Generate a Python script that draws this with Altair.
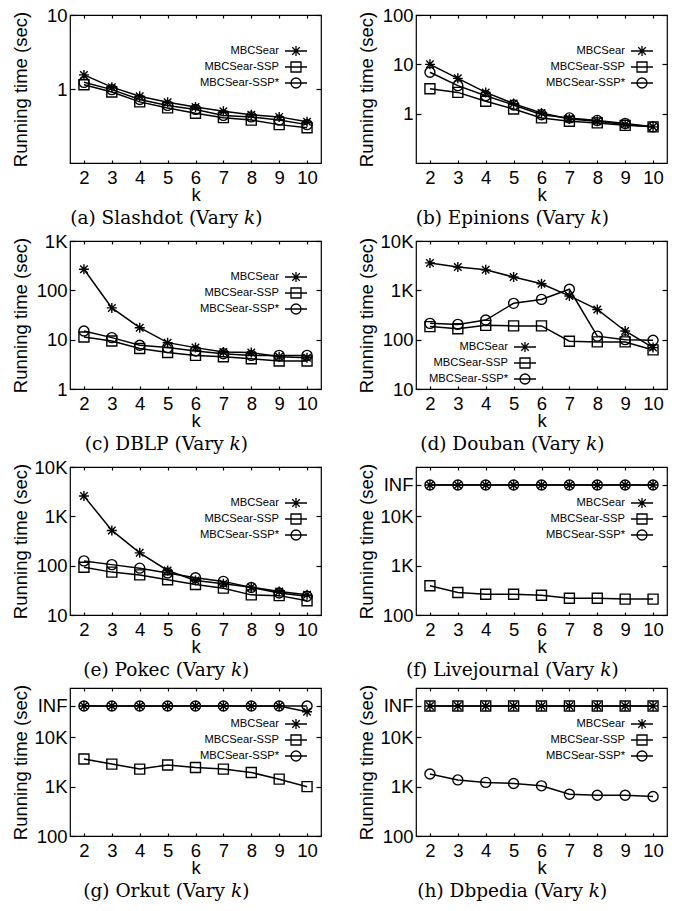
import altair as alt
import pandas as pd

K = [2, 3, 4, 5, 6, 7, 8, 9, 10]
INF = 43200
ALGOS = ["MBCSear", "MBCSear-SSP", "MBCSear-SSP*"]

CAPTIONS = [
    "(a) Slashdot (Vary 𝑘)", "(b) Epinions (Vary 𝑘)",
    "(c) DBLP (Vary 𝑘)", "(d) Douban (Vary 𝑘)",
    "(e) Pokec (Vary 𝑘)", "(f) Livejournal (Vary 𝑘)",
    "(g) Orkut (Vary 𝑘)", "(h) Dbpedia (Vary 𝑘)",
]

# values, per panel: MBCSear, MBCSear-SSP, MBCSear-SSP*
slashdot_mbc = [1.55, 1.06, 0.80, 0.66, 0.57, 0.50, 0.45, 0.42, 0.36]
slashdot_ssp = [1.14, 0.91, 0.67, 0.555, 0.47, 0.41, 0.38, 0.33, 0.30]
slashdot_sspx = [1.23, 0.98, 0.72, 0.60, 0.53, 0.44, 0.42, 0.38, 0.33]

epinions_mbc = [10.0, 5.2, 2.7, 1.6, 1.03, 0.78, 0.70, 0.60, 0.54]
epinions_ssp = [3.2, 2.7, 1.78, 1.24, 0.82, 0.70, 0.65, 0.58, 0.54]
epinions_sspx = [6.9, 3.7, 2.3, 1.5, 0.95, 0.82, 0.73, 0.63, 0.54]

dblp_mbc = [268, 44, 17.5, 8.7, 6.9, 5.6, 5.5, 4.5, 4.3]
dblp_ssp = [11.3, 9.4, 6.6, 5.5, 4.8, 4.5, 4.1, 3.7, 3.7]
dblp_sspx = [15, 11, 7.7, 6.9, 5.9, 5.2, 4.8, 4.8, 4.8]

douban_mbc = [3600, 2960, 2600, 1860, 1360, 770, 410, 150, 69]
douban_ssp = [184, 167, 195, 190, 190, 93, 90, 90, 62]
douban_sspx = [214, 204, 250, 545, 655, 1050, 118, 100, 97]

pokec_mbc = [2580, 518, 182, 80, 50, 43, 36.6, 30, 25.6]
pokec_ssp = [93, 74, 65, 52, 41.5, 35, 25.6, 24.7, 19.5]
pokec_sspx = [125, 105, 89, 71, 57, 48, 36, 28, 24]

livejournal_mbc = [INF] * 9
livejournal_ssp = [391, 286, 264, 264, 252, 218, 218, 210, 210]
livejournal_sspx = [INF] * 9

orkut_mbc = [INF] * 8 + [33000]
orkut_ssp = [3630, 2870, 2270, 2740, 2450, 2270, 1940, 1420, 1000]
orkut_sspx = [INF] * 9

dbpedia_mbc = [INF] * 9
dbpedia_ssp = [INF] * 9
dbpedia_sspx = [1800, 1370, 1220, 1160, 1040, 700, 670, 670, 630]

SERIES = [
    (slashdot_mbc, slashdot_ssp, slashdot_sspx),
    (epinions_mbc, epinions_ssp, epinions_sspx),
    (dblp_mbc, dblp_ssp, dblp_sspx),
    (douban_mbc, douban_ssp, douban_sspx),
    (pokec_mbc, pokec_ssp, pokec_sspx),
    (livejournal_mbc, livejournal_ssp, livejournal_sspx),
    (orkut_mbc, orkut_ssp, orkut_sspx),
    (dbpedia_mbc, dbpedia_ssp, dbpedia_sspx),
]

Y_DOMAINS = [[0.1, 10], [0.1, 100], [1, 1000], [10, 10000], [10, 10000],
             [100, 100000], [100, 100000], [100, 100000]]
Y_TICKS = [[1, 10], [1, 10, 100], [1, 10, 100, 1000], [10, 100, 1000, 10000],
           [10, 100, 1000, 10000], [100, 1000, 10000, INF],
           [100, 1000, 10000, INF], [100, 1000, 10000, INF]]
Y_LABELS = [["1", "10"], ["1", "10", "100"], ["1", "10", "100", "1K"],
            ["10", "100", "1K", "10K"], ["10", "100", "1K", "10K"],
            ["100", "1K", "10K", "INF"], ["100", "1K", "10K", "INF"],
            ["100", "1K", "10K", "INF"]]

# legend placement (top-right in most panels, lower-left in Douban)
LEGEND_POS = [(131, 30), (131, 30), (131, 30), (14, 100), (131, 30),
              (131, 30), (131, 30), (131, 30)]

MARKERS = [
    "M-1,0H1M0,-1V1M-0.75,-0.75L0.75,0.75M-0.75,0.75L0.75,-0.75",
    "square",
    "circle",
]
# legend keys: a short line with the marker, drawn to the right of the label
LEG_MARKERS = [
    "M15.6,0H20M17.8,-1V1M17.05,-0.75L18.55,0.75M17.05,0.75L18.55,-0.75",
    "M15.6,0H16.8M18.8,0H20M16.8,-1H18.8V1H16.8ZM16.8,0H18.8",
    "M15.6,0H20M16.8,0A1,1 0 1,1 18.8,0A1,1 0 1,1 16.8,0",
]

W, H = 251, 148
FS = 18.5
SANS = "Liberation Sans, Arial, sans-serif"


def label_expr(ticks, labels):
    expr = "''"
    for t, l in reversed(list(zip(ticks, labels))):
        expr = f"(abs(datum.value - {t}) < {t} * 0.001) ? '{l}' : " + f"({expr})"
    return expr


def make_panel(i):
    rows = []
    for algo, vals in zip(ALGOS, SERIES[i]):
        for k, v in zip(K, vals):
            rows.append({"k": k, "time": v, "algo": algo})
    df = pd.DataFrame(rows)
    base = alt.Chart(df)
    xs = alt.Scale(domain=[1.5, 10.5], nice=False, zero=False)
    ys = alt.Scale(type="log", domain=Y_DOMAINS[i], nice=False)
    ticks = Y_TICKS[i]

    x_main = alt.X("k:Q", scale=xs, axis=alt.Axis(
        orient="bottom", values=K, title="k", ticks=False, tickSize=0,
        labelPadding=5, titlePadding=-1, domain=False, labelFlush=False,
        labelFontSize=FS, titleFontSize=FS))
    y_main = alt.Y("time:Q", scale=ys, axis=alt.Axis(
        orient="left", values=ticks, labelExpr=label_expr(ticks, Y_LABELS[i]),
        title="Running time (sec)", ticks=False, tickSize=0, domain=False,
        labelPadding=3, minExtent=38, maxExtent=38, titlePadding=2,
        labelFontSize=FS, titleFontSize=FS, labelFlush=False))
    lines = base.mark_line(color="black", strokeWidth=1.5).encode(
        x=x_main, y=y_main, detail="algo:N")

    # ticks on the bottom edge and on the left edge, pointing inward
    x_b = alt.X("k:Q", scale=xs, axis=alt.Axis(
        orient="bottom", offset=-3, values=K, labels=False, title=None,
        tickSize=3, domain=False))
    y_l = alt.Y("time:Q", scale=ys, axis=alt.Axis(
        orient="left", offset=-5, values=ticks, labels=False, title=None,
        tickSize=5, domain=False))
    points = base.mark_point(filled=False, color="black", size=100,
                             strokeWidth=1.4, opacity=1).encode(
        x=x_b, y=y_l,
        shape=alt.Shape("algo:N", scale=alt.Scale(domain=ALGOS, range=MARKERS),
                        legend=None))

    # ticks on the top edge and on the right edge, pointing inward;
    # this layer only carries the legend (its own marks have no size)
    x_t = alt.X("k:Q", scale=xs, axis=alt.Axis(
        orient="bottom", offset=-H, values=K, labels=False, title=None,
        tickSize=3, domain=False))
    y_r = alt.Y("time:Q", scale=ys, axis=alt.Axis(
        orient="left", offset=-W, values=ticks, labels=False, title=None,
        tickSize=5, domain=False))
    lx, ly = LEGEND_POS[i]
    leg = base.mark_point(filled=False, color="black", opacity=0,
                          size=0).encode(
        x=x_t, y=y_r,
        shape=alt.Shape("algo:N", scale=alt.Scale(domain=ALGOS, range=LEG_MARKERS),
                        title=None,
                        legend=alt.Legend(
                            orient="none", legendX=lx, legendY=ly,
                            labelAlign="right", labelOffset=66,
                            symbolSize=100, symbolOpacity=1,
                            symbolStrokeColor="black", symbolStrokeWidth=1.3,
                            symbolFillColor="transparent",
                            labelFont=SANS, labelFontSize=11.2,
                            labelColor="black", rowPadding=0, padding=0,
                            labelLimit=0)))

    return alt.layer(lines, points, leg).resolve_scale(
        shape="independent").resolve_axis(
        x="independent", y="independent").properties(
        width=W, height=H,
        title=alt.TitleParams(CAPTIONS[i], orient="bottom", anchor="middle",
                              frame="bounds", offset=5))


charts = [make_panel(i) for i in range(8)]
chart = alt.concat(*charts, columns=2, spacing={"row": 2, "column": 33}).resolve_scale(
    shape="independent"
).properties(
    padding={"left": 2, "top": -3, "right": 0, "bottom": 0}
).configure_view(
    stroke="black", strokeWidth=1.2
).configure_axis(
    labelFont=SANS, titleFont=SANS,
    labelColor="black", titleColor="black", titleFontWeight="normal",
    grid=False, tickColor="black", tickWidth=1.2
).configure_title(
    font="DejaVu Serif", fontSize=18.5, fontWeight="normal", color="black"
)

chart.save("out.html", embed_options={"renderer": "svg", "actions": False})
